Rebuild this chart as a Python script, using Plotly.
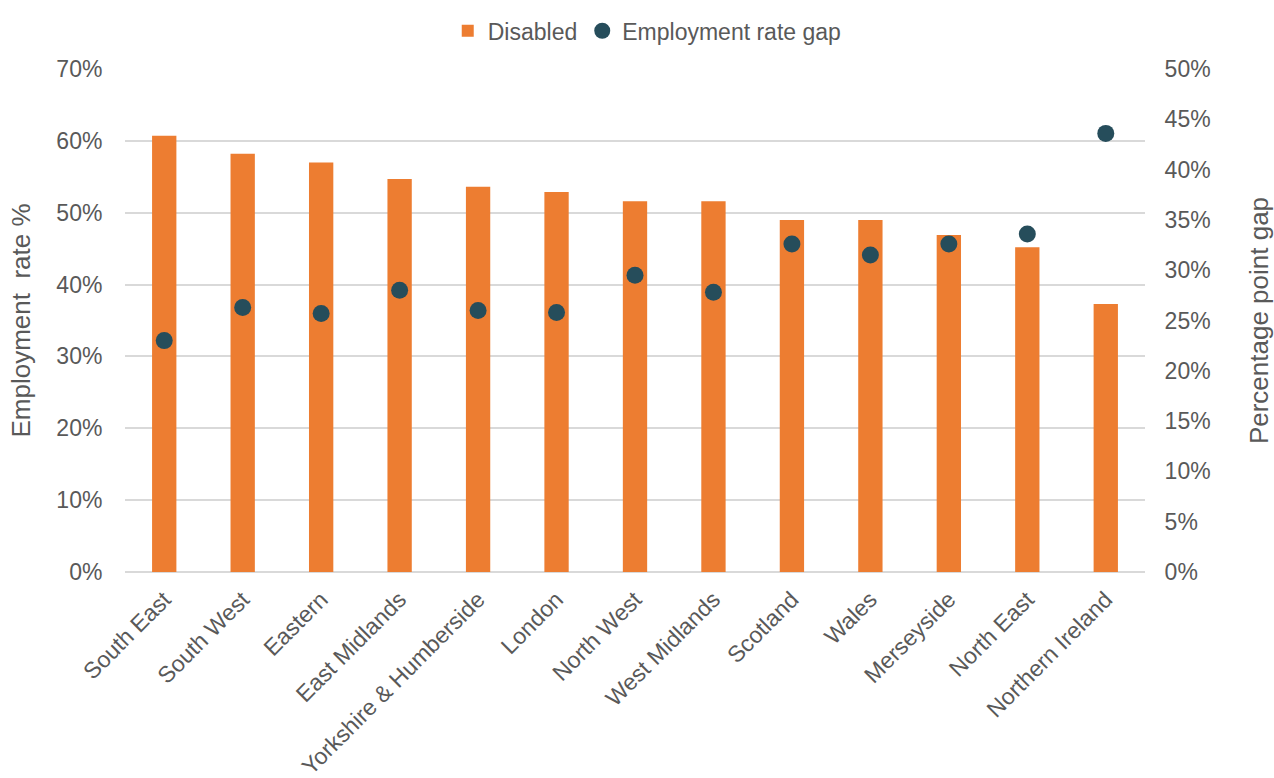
import plotly.graph_objects as go

regions = ["South East", "South West", "Eastern", "East Midlands", "Yorkshire & Humberside",
           "London", "North West", "West Midlands", "Scotland", "Wales", "Merseyside",
           "North East", "Northern Ireland"]
disabled_rate = [60.7, 58.2, 57.0, 54.7, 53.6, 52.9, 51.6, 51.6, 49.0, 49.0, 46.9, 45.2, 37.3]
rate_gap = [23.0, 26.3, 25.7, 28.0, 26.0, 25.8, 29.5, 27.8, 32.6, 31.5, 32.6, 33.6, 43.6]

left_ticks = [0, 10, 20, 30, 40, 50, 60, 70]
right_ticks = [0, 5, 10, 15, 20, 25, 30, 35, 40, 45, 50]

GREY = "#595959"
FONT = "Liberation Sans, Arial, sans-serif"

fig = go.Figure()
fig.add_trace(go.Bar(
    x=regions, y=disabled_rate, name="Disabled",
    marker=dict(color="#ED7D31", line=dict(width=0)),
    yaxis="y",
))
fig.add_trace(go.Scatter(
    x=regions, y=rate_gap, name="Employment rate gap",
    mode="markers",
    marker=dict(color="#264D5B", size=17, line=dict(width=0)),
    yaxis="y2",
))

fig.update_layout(
    width=1274, height=778,
    margin=dict(l=125, r=129, t=69, b=206, autoexpand=False),
    paper_bgcolor="white", plot_bgcolor="white",
    font=dict(family=FONT, color=GREY, size=23),
    bargap=0.69,
    showlegend=True,
    legend=dict(orientation="h", x=0.512, xanchor="center", y=1.076, yanchor="middle",
                font=dict(size=23, color=GREY), itemwidth=30, tracegroupgap=0),
    xaxis=dict(
        range=[-0.5, len(regions) - 0.5],
        tickangle=-45, tickfont=dict(size=23, color=GREY),
        showgrid=False, showline=False, zeroline=False,
        ticks="outside", ticklen=4, tickcolor="rgba(0,0,0,0)",
        automargin=False,
    ),
    yaxis=dict(
        range=[0, 70], tickvals=left_ticks, ticktext=[f"{v}%" for v in left_ticks],
        showgrid=True, gridcolor="#D9D9D9", gridwidth=2,
        zeroline=True, zerolinecolor="#D9D9D9", zerolinewidth=2,
        ticks="outside", ticklen=17, tickcolor="rgba(0,0,0,0)",
        tickfont=dict(size=23, color=GREY),
        title=dict(text="Employment  rate %", font=dict(size=26, color=GREY), standoff=18),
        automargin=False,
    ),
    yaxis2=dict(
        range=[0, 50], tickvals=right_ticks, ticktext=[f"{v}%" for v in right_ticks],
        overlaying="y", side="right",
        showgrid=False, zeroline=False,
        ticks="outside", ticklen=14, tickcolor="rgba(0,0,0,0)",
        tickfont=dict(size=23, color=GREY),
        title=dict(text="Percentage point gap", font=dict(size=26, color=GREY), standoff=40),
        automargin=False,
    ),
)

fig.write_html("out.html")
